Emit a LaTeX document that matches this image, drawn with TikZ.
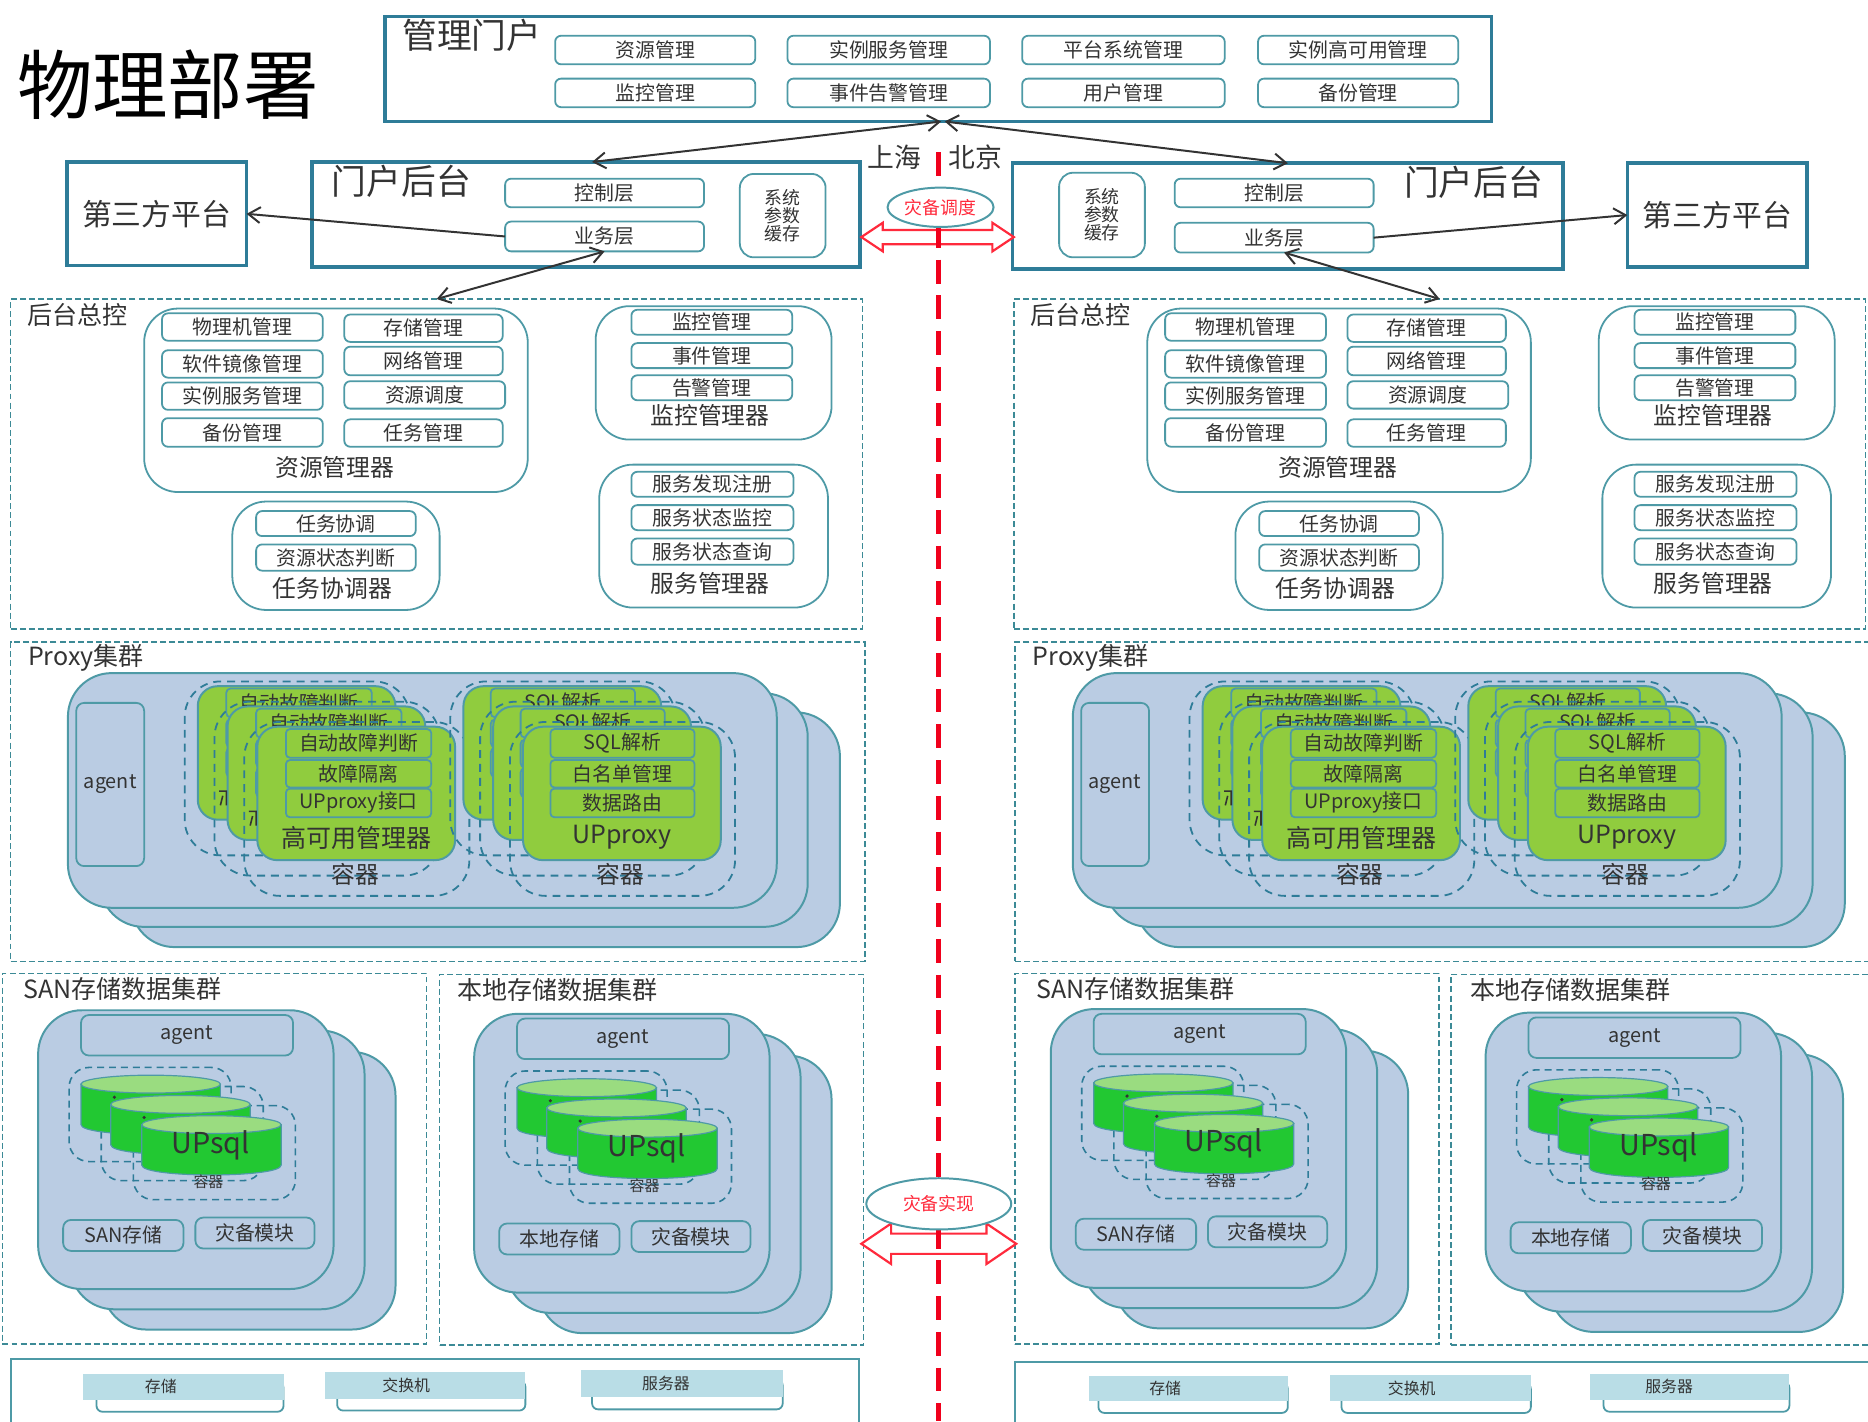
\documentclass[tikz,border=0pt]{standalone}
\usepackage{fontspec}
\setmainfont{Noto Sans CJK SC}
\usetikzlibrary{arrows.meta,shapes.geometric}
\definecolor{tealD}{HTML}{2E7C98}
\definecolor{tealL}{HTML}{4E9AA6}
\definecolor{tealT}{HTML}{3C8A96}
\definecolor{txt}{HTML}{333333}
\definecolor{blueF}{HTML}{BACCE3}
\definecolor{greenF}{HTML}{90CC3E}
\definecolor{cylB}{HTML}{22C832}
\definecolor{cylT}{HTML}{9ADC80}
\definecolor{bandF}{HTML}{B9DDE6}
\definecolor{redL}{HTML}{FF2A3C}
\definecolor{redD}{HTML}{F0001C}
\newcommand\fsz[1]{\fontsize{#1}{#1}\selectfont}
\tikzset{
  base/.style={inner sep=0pt,outer sep=0pt,text=txt,align=center},
  frame/.style={base,draw=tealD,line width=1.8pt},
  dashframe/.style={base,draw=tealT,line width=.7pt,dash pattern=on 3pt off 1.6pt},
  thinframe/.style={base,draw=tealL,line width=.9pt},
  ibox/.style={base,draw=tealL,line width=.9pt,rounded corners=3pt,fill=white,font=\fsz{10}},
  grp/.style={base,draw=tealL,line width=.9pt,rounded corners=17pt},
  bluelayer/.style={base,draw=tealL,line width=1pt,rounded corners=22pt,fill=blueF},
  blueitem/.style={base,draw=tealL,line width=.9pt,rounded corners=4pt,fill=blueF,font=\fsz{10}},
  greenlayer/.style={base,draw=tealL,line width=1pt,rounded corners=10pt,fill=greenF},
  greenitem/.style={base,draw=tealL,line width=.9pt,rounded corners=2pt,fill=greenF,font=\fsz{10}},
  ctn/.style={base,draw=tealD,line width=.9pt,dash pattern=on 4pt off 3pt,rounded corners=18pt},
  smallctn/.style={base,draw=tealD,line width=.8pt,dash pattern=on 3.5pt off 2.5pt,rounded corners=10pt},
  label/.style={inner sep=0pt,outer sep=0pt,text=txt,align=center},
  biarrow/.style={draw=txt,line width=1pt,{Straight Barb[length=6pt,width=8pt]}-{Straight Barb[length=6pt,width=8pt]}},
  onearrow/.style={draw=txt,line width=1pt,-{Straight Barb[length=6pt,width=8pt]}},
  redarrow/.style={draw=redL,line width=1.1pt,fill=white,line join=miter},
  redline/.style={draw=redD,line width=2.3pt,dash pattern=on 12pt off 6pt},
  oval/.style={ellipse,draw=tealL,line width=1pt,fill=white,text=redL,inner sep=0pt,outer sep=0pt},
  cylbody/.style={draw=tealL,line width=.6pt,fill=cylB},
  cyltop/.style={draw=tealL,line width=.6pt,fill=cylT},
  band/.style={base,fill=bandF},
  underbox/.style={base,draw=tealL,line width=.9pt,rounded corners=3pt,fill=white},
  fragment/.style={draw=txt,line width=.8pt},
}
% [style]{name}{x1}{y1}{x2}{y2}{text}
\newcommand\rb[7][]{%
  \pgfmathsetmacro\rbcx{(#3+#5)/2}%
  \pgfmathsetmacro\rbcy{(#4+#6)/2}%
  \pgfmathsetmacro\rbw{(#5-#3)*0.6}%
  \pgfmathsetmacro\rbh{(#6-#4)*0.6}%
  \node[#1,minimum width=\rbw pt,minimum height=\rbh pt] (#2) at (\rbcx,\rbcy) {#7};%
}
% back-end control block, prefix #1
\newcommand\backctl[1]{%
  \node[label,font=\fsz{12.6}] (#1bl) at (65,264) {后台总控};
  \rb[grp]{#1res}{121}{259}{443}{413}{}
  \rb[ibox]{#1r1}{136}{263}{271}{286}{物理机管理}
  \rb[ibox]{#1r2}{289}{264}{422}{287}{存储管理}
  \rb[ibox]{#1r3}{136}{294}{271}{317}{软件镜像管理}
  \rb[ibox]{#1r4}{289}{291}{422}{315}{网络管理}
  \rb[ibox]{#1r5}{136}{321}{271}{344}{实例服务管理}
  \rb[ibox]{#1r6}{289}{320}{424}{343}{资源调度}
  \rb[ibox]{#1r7}{136}{351}{271}{375}{备份管理}
  \rb[ibox]{#1r8}{289}{352}{422}{375}{任务管理}
  \node[label,font=\fsz{12}] (#1rl) at (281,392) {资源管理器};
  \rb[grp]{#1mon}{500}{257}{698}{369}{}
  \rb[ibox]{#1m1}{530}{260}{665}{281}{监控管理}
  \rb[ibox]{#1m2}{530}{288}{665}{309}{事件管理}
  \rb[ibox]{#1m3}{530}{315}{665}{336}{告警管理}
  \node[label,font=\fsz{12}] (#1ml) at (596,349) {监控管理器};
  \rb[grp]{#1svc}{503}{390}{695}{510}{}
  \rb[ibox]{#1s1}{530}{396}{666}{417}{服务发现注册}
  \rb[ibox]{#1s2}{530}{424}{666}{445}{服务状态监控}
  \rb[ibox]{#1s3}{530}{452}{666}{474}{服务状态查询}
  \node[label,font=\fsz{12}] (#1sl) at (596,490) {服务管理器};
  \rb[grp]{#1tsk}{195}{421}{369}{512}{}
  \rb[ibox]{#1t1}{215}{429}{349}{450}{任务协调}
  \rb[ibox]{#1t2}{215}{457}{349}{479}{资源状态判断}
  \node[label,font=\fsz{12}] (#1tl) at (279,494) {任务协调器};
}
% one container layer: name, dx, dy, x1, x2, t1, t2, t3, label
\newcommand\proxylayer[9]{%
  \begin{scope}[shift={(#2,#3)}]
    \rb[ctn]{#1c}{205}{606}{394}{752}{}
    \rb[greenlayer]{#1g}{216}{610}{382}{722}{}
    \rb[greenitem]{#1i}{#4}{612}{#5}{636}{#6}
    \rb[greenitem]{#1j}{#4}{638}{#5}{661}{#7}
    \rb[greenitem]{#1k}{#4}{662}{#5}{686}{#8}
    \node[label,font=\fsz{12.6}] (#1l) at (299,703) {#9};
  \end{scope}
}
% proxy cluster, prefix #1
\newcommand\proxyblock[1]{%
  \node[label,font=\fsz{12.6}] (#1pl) at (72,552) {Proxy集群};
  \rb[bluelayer]{#1p3}{110}{598}{705}{795}{}
  \rb[bluelayer]{#1p2}{84}{582}{678}{778}{}
  \rb[bluelayer]{#1p1}{57}{565}{652}{762}{}
  \rb[blueitem]{#1ag}{64}{590}{121}{727}{agent}
  \proxylayer{#1ha}{-50}{-34}{240}{362}{自动故障判断}{}{}{}
  \proxylayer{#1hb}{-25}{-17}{240}{362}{自动故障判断}{}{}{}
  \proxylayer{#1hc}{0}{0}{240}{362}{自动故障判断}{故障隔离}{UPproxy接口}{高可用管理器}
  \node[label,font=\fsz{12}] (#1hn) at (298,734) {容器};
  \draw[fragment] (184,664) -- (190,664) -- (190,676) (187,668) -- (185,676);
  \draw[fragment] (209,681) -- (215,681) -- (215,693) (212,685) -- (210,693);
  \proxylayer{#1ua}{173}{-34}{239}{360}{SQL解析}{}{}{}
  \proxylayer{#1ub}{198}{-17}{239}{360}{SQL解析}{}{}{}
  \proxylayer{#1uc}{223}{0}{239}{360}{SQL解析}{白名单管理}{数据路由}{UPproxy}
  \node[label,font=\fsz{12}] (#1un) at (521,734) {容器};
}
% cylinder at offset
\newcommand\dbcyl[4]{%
  \begin{scope}[shift={(#2,#3)}]
    \path[cylbody] (119,944) -- (119,978) .. controls (119,989) and (236,989) .. (236,978) -- (236,944) -- cycle;
    \path[cyltop] (177.5,944) ellipse [x radius=58.5,y radius=7.5];
    \node[label,font=\fsz{14.5}] (#1) at (177,961) {#4};
  \end{scope}
}
% data cluster block: prefix, storage text
\newcommand\datablock[2]{%
  \rb[bluelayer]{#1d3}{86}{883}{332}{1116}{}
  \rb[bluelayer]{#1d2}{59}{865}{306}{1099}{}
  \rb[bluelayer]{#1d1}{32}{848}{280}{1082}{}
  \rb[blueitem]{#1ag}{68}{852}{246}{886}{agent}
  \foreach \ly/\ox/\oy in {a/-54/-32,b/-27/-16,c/0/0}{%
    \begin{scope}[shift={(\ox,\oy)}]
      \rb[smallctn]{#1c\ly}{112}{928}{248}{1007}{}
    \end{scope}
  }
  \dbcyl{#1ua}{-51}{-34}{}
  \fill[txt] (96,921) circle [radius=1.5];
  \dbcyl{#1ub}{-26}{-17}{}
  \fill[txt] (121,938) circle [radius=1.5];
  \dbcyl{#1uc}{0}{0}{UPsql}
  \node[label,font=\fsz{7.5}] (#1cn) at (175,992) {容器};
  \rb[blueitem]{#1st}{53}{1024}{154}{1050}{#2}
  \rb[blueitem]{#1dr}{164}{1022}{264}{1048}{灾备模块}
}
% infrastructure item: name, band x1,y1,y2,x2, box x1, label x, text
\newcommand\infra[8]{%
  \pgfmathsetmacro\infb{#4-15}%
  \pgfmathsetmacro\infe{#4+10}%
  \rb[underbox]{#1u}{#6}{\infb}{#5}{\infe}{}
  \rb[band]{#1b}{#2}{#3}{#5}{#4}{}
  \pgfmathsetmacro\infy{(#3+#4)/2}%
  \node[label,font=\fsz{8}] (#1t) at (#7,\infy) {#8};
}
\begin{document}
\begin{tikzpicture}[x=0.6pt,y=-0.6pt]
\clip (0,0) rectangle (1568,1192.8);
\fill[white] (0,0) rectangle (1568,1192.8);

\node[inner sep=0pt,font=\fsz{38},text=black] (title) at (141,71) {物理部署};

% management portal
\rb[frame]{portal}{323}{14}{1252}{102}{}
\node[label,font=\fsz{17.5}] (portalt) at (396,30) {管理门户};
\rb[ibox]{pa}{466}{30}{634}{54}{资源管理}
\rb[ibox]{pb}{661}{30}{831}{54}{实例服务管理}
\rb[ibox]{pc}{858}{30}{1028}{54}{平台系统管理}
\rb[ibox]{pd}{1056}{30}{1224}{54}{实例高可用管理}
\rb[ibox]{pe}{466}{66}{634}{90}{监控管理}
\rb[ibox]{pf}{661}{66}{831}{90}{事件告警管理}
\rb[ibox]{pg}{858}{66}{1028}{90}{用户管理}
\rb[ibox]{ph}{1056}{66}{1224}{90}{备份管理}
\coordinate (pl) at (790,102);
\coordinate (pr) at (793,102);

% left portal backend
\rb[frame]{lpb}{262}{136}{722}{224}{}
\node[label,font=\fsz{17.5}] (lpbt) at (337,152) {门户后台};
\rb[ibox]{lctl}{424}{150}{591}{174}{控制层}
\rb[ibox]{lbiz}{424}{186}{591}{211}{业务层}
\rb[ibox,font=\fsz{9},rounded corners=7pt]{lsys}{621}{146}{693}{216}{系统\\参数\\缓存}
\rb[frame,font=\fsz{15}]{lthird}{56}{136}{207}{223}{第三方平台}

% right portal backend
\rb[frame]{rpb}{850}{137}{1312}{226}{}
\node[label,font=\fsz{17.5}] (rpbt) at (1237,153) {门户后台};
\rb[ibox]{rctl}{986}{150}{1153}{174}{控制层}
\rb[ibox]{rbiz}{986}{187}{1153}{212}{业务层}
\rb[ibox,font=\fsz{9},rounded corners=7pt]{rsys}{889}{145}{961}{216}{系统\\参数\\缓存}
\rb[frame,font=\fsz{15}]{rthird}{1366}{137}{1517}{224}{第三方平台}

\node[label,font=\fsz{13.5}] (sh) at (751,132) {上海};
\node[label,font=\fsz{13.5}] (bj) at (819,132) {北京};

% back-end control frames
\rb[dashframe]{lback}{9}{251}{724}{528}{}
\backctl{l}
\rb[dashframe]{rback}{851}{251}{1566}{528}{}
\begin{scope}[shift={(842,0)}]
\backctl{r}
\end{scope}

% proxy clusters
\rb[dashframe]{lprox}{9}{539}{726}{807}{}
\proxyblock{l}
\rb[dashframe]{rprox}{852}{539}{1575}{807}{}
\begin{scope}[shift={(843.5,0)}]
\proxyblock{r}
\end{scope}

% data clusters
\rb[dashframe]{ldsan}{2}{817}{358}{1128}{}
\node[label,font=\fsz{12.6}] (ldsant) at (103,830) {SAN存储数据集群};
\datablock{ls}{SAN存储}
\rb[dashframe]{ldloc}{369}{818}{725}{1129}{}
\node[label,font=\fsz{12.6}] (ldloct) at (468,831) {本地存储数据集群};
\begin{scope}[shift={(366,3)}]
\datablock{ll}{本地存储}
\end{scope}
\rb[dashframe]{rdsan}{852}{817}{1208}{1128}{}
\node[label,font=\fsz{12.6}] (rdsant) at (953,830) {SAN存储数据集群};
\begin{scope}[shift={(850,-1)}]
\datablock{rs}{SAN存储}
\end{scope}
\rb[dashframe]{rdloc}{1218}{818}{1575}{1129}{}
\node[label,font=\fsz{12.6}] (rdloct) at (1318,831) {本地存储数据集群};
\begin{scope}[shift={(1215,2)}]
\datablock{rl}{本地存储}
\end{scope}

% infrastructure rows
\rb[thinframe]{linf}{9}{1141}{721}{1215}{}
\infra{li1}{70}{1153}{1175}{238}{81}{135}{存储}
\infra{li2}{273}{1152}{1174}{441}{283}{341}{交换机}
\infra{li3}{488}{1150}{1173}{657}{497}{559}{服务器}
\rb[thinframe]{rinf}{852}{1143}{1585}{1215}{}
\infra{ri1}{914}{1155}{1176}{1081}{922}{978}{存储}
\infra{ri2}{1116}{1154}{1176}{1285}{1126}{1185}{交换机}
\infra{ri3}{1335}{1153}{1175}{1502}{1346}{1401}{服务器}

% black connectors
\draw[biarrow] (pl) -- ([xshift=3pt]lpb.north);
\draw[biarrow] (pr) -- (rpb.north);
\draw[onearrow] (lbiz.west) -- (lthird.east);
\draw[onearrow] (rbiz.east) -- (rthird.west);
\draw[biarrow] (lback.north) -- (lbiz.south);
\draw[biarrow] (rback.north) -- ([xshift=5pt]rbiz.south);

% red double arrows
\path[redarrow] (723,199) -- (741,187) -- (741,193) -- (833,193) -- (833,187) -- (851,199) -- (833,211) -- (833,205) -- (741,205) -- (741,211) -- cycle;
\path[redarrow] (723,1044) -- (748,1027) -- (748,1035.5) -- (828,1035.5) -- (828,1027) -- (853,1044) -- (828,1061) -- (828,1052.5) -- (748,1052.5) -- (748,1061) -- cycle;

% red separator
\coordinate (sepa) at (788,128);
\coordinate (sepb) at (788,1193);
\draw[redline] (sepa) -- (sepb);

% ovals
\node[oval,minimum width=53.4pt,minimum height=19.8pt,font=\fsz{9}] (ov1) at (789.5,174) {灾备调度};
\node[oval,minimum width=73pt,minimum height=25.8pt,font=\fsz{9}] (ov2) at (788,1010.5) {灾备实现};
\end{tikzpicture}
\end{document}
